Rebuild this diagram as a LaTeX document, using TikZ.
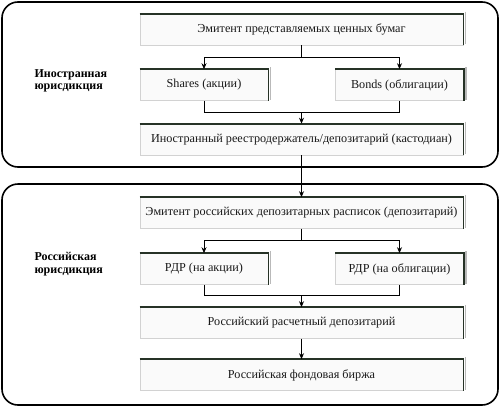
\documentclass[tikz,border=0pt]{standalone}
\usepackage{fontspec}
\setmainfont{Liberation Serif}
\usetikzlibrary{arrows.meta,calc}
\definecolor{dk}{HTML}{263226}
\tikzset{
  every node/.style={font=\fontsize{12.2}{14}\selectfont},
  bx/.style={draw=gray!35,fill=gray!4,line width=0.6pt,inner sep=0pt,minimum height=31pt,text=black!90},
  wide/.style={bx,minimum width=323pt},
  narrow/.style={bx,minimum width=128pt},
  edge/.style={draw=dk,line width=1.6pt},
  shadow/.style={draw=gray!55,line width=1.2pt},
  frame/.style={draw=black,line width=1.6pt,rounded corners=16pt},
  lab/.style={font=\fontsize{12}{12.5}\selectfont\bfseries,align=left,anchor=west},
  ln/.style={draw=black,line width=0.8pt},
  arr/.style={ln,-{Stealth[length=6pt,width=5pt]}}
}
\newcommand{\boxedges}[1]{%
  \draw[shadow] ($(#1.north east)+(2.2pt,2pt)$) -- ($(#1.south east)+(2.2pt,1pt)$);
  \draw[edge] (#1.north west) -- (#1.north east) -- (#1.south east);}
\begin{document}
\begin{tikzpicture}[x=1pt,y=-1pt]
\useasboundingbox (0,0) rectangle (500,407);
\draw[frame] (2,2) rectangle (498,167);
\draw[frame] (2,184) rectangle (498,405);

\node[lab] (lf) at (31,81) {Иностранная\\юрисдикция};
\node[lab] (lr) at (31,264) {Российская\\юрисдикция};

\node[wide] (e1) at (301.5,29.5) {Эмитент представляемых ценных бумаг};
\node[narrow] (sh) at (204,85) {Shares (акции)};
\node[narrow] (bo) at (399.5,85) {Bonds (облигации)};
\node[wide] (cu) at (301.5,139.5) {Иностранный реестродержатель/депозитарий (кастодиан)};

\node[wide] (e2) at (301.5,213) {Эмитент российских депозитарных расписок (депозитарий)};
\node[narrow] (ra) at (204,269) {РДР (на акции)};
\node[narrow] (rb) at (399.5,269) {РДР (на облигации)};
\node[wide] (rd) at (301.5,323) {Российский расчетный депозитарий};
\node[wide] (ex) at (301.5,375) {Российская фондовая биржа};

\foreach \n in {e1,sh,bo,cu,e2,ra,rb,rd,ex}{\boxedges{\n}}

\coordinate (b1) at (301.5,57);
\coordinate (j1) at (301.5,112);
\coordinate (b2) at (301.5,240);
\coordinate (j2) at (301.5,295);

\draw[ln] (e1.south) -- (b1);
\draw[arr] (b1) -| (sh.north);
\draw[arr] (b1) -| (bo.north);
\draw[ln] (sh.south) -- (sh.south |- j1) -- (bo.south |- j1) -- (bo.south);
\draw[arr] (j1) -- (cu.north);
\draw[arr] (cu.south) -- (e2.north);

\draw[ln] (e2.south) -- (b2);
\draw[arr] (b2) -| (ra.north);
\draw[arr] (b2) -| (rb.north);
\draw[ln] (ra.south) -- (ra.south |- j2) -- (rb.south |- j2) -- (rb.south);
\draw[arr] (j2) -- (rd.north);
\draw[arr] (rd.south) -- (ex.north);
\end{tikzpicture}
\end{document}
